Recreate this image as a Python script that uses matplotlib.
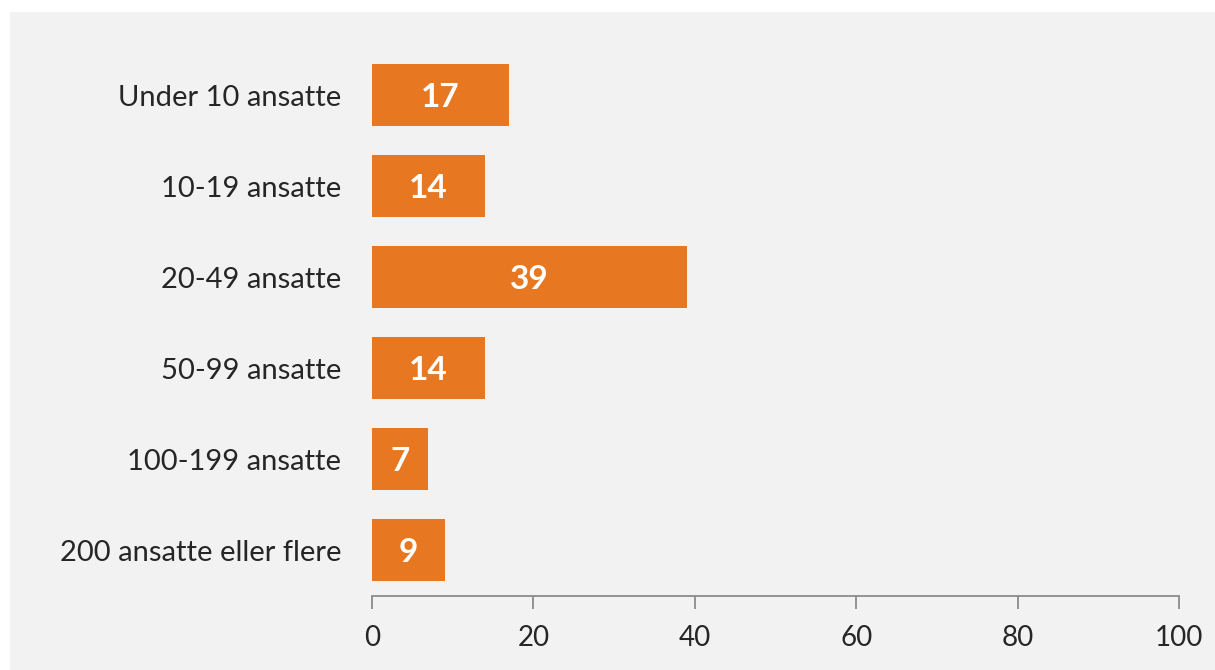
import matplotlib.pyplot as plt
from matplotlib.patches import Rectangle

categories = [
    "Under 10 ansatte",
    "10-19 ansatte",
    "20-49 ansatte",
    "50-99 ansatte",
    "100-199 ansatte",
    "200 ansatte eller flere",
]
values = [17, 14, 39, 14, 7, 9]
xticks = [0, 20, 40, 60, 80, 100]

plt.rcParams["font.family"] = ["Lato", "DejaVu Sans"]

fig = plt.figure(figsize=(12.15, 6.7), dpi=100)
fig.patch.set_facecolor("white")
# light gray panel, leaving a thin white margin top and left
fig.patches.append(
    Rectangle((10 / 1215, -0.01), 1.0, 1.01 - 12 / 670,
              transform=fig.transFigure, facecolor="#f2f2f2",
              edgecolor="none", zorder=-10)
)

ax = fig.add_axes([372 / 1215, 1 - 596 / 670, (1179 - 372) / 1215, (596 - 49.5) / 670])
ax.set_facecolor("none")

ypos = list(range(len(categories)))
bars = ax.barh(ypos, values, height=0.68, color="#e87722")
for y, v in zip(ypos, values):
    ax.text(v / 2, y, str(v), ha="center", va="center_baseline", color="white",
            fontsize=24, fontweight="bold")

ax.set_ylim(5.5, -0.5)
ax.set_xlim(0, 100)
ax.set_yticks(ypos)
ax.set_yticklabels(categories, fontsize=21, color="#262626")
ax.tick_params(axis="y", length=0, pad=22)
ax.set_xticks(xticks)
ax.set_xticklabels([str(t) for t in xticks], fontsize=20, color="#262626")
ax.tick_params(axis="x", length=9, width=1.3, color="#8c8c8c", pad=12)

for s in ["top", "right", "left"]:
    ax.spines[s].set_visible(False)
ax.spines["bottom"].set_color("#8c8c8c")
ax.spines["bottom"].set_linewidth(1.3)

fig.savefig("out.png", dpi=100, facecolor=fig.get_facecolor())
